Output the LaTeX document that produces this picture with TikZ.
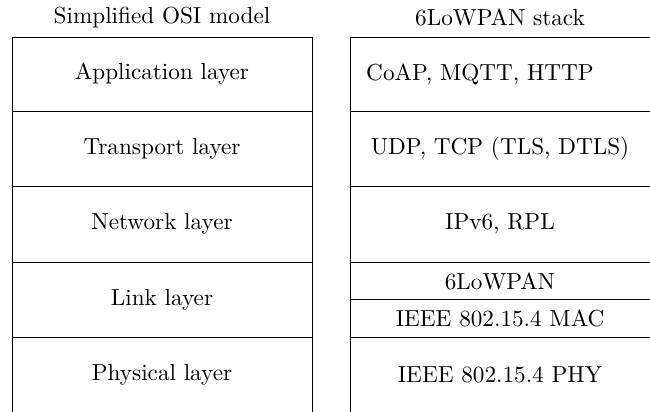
\documentclass[tikz,border=0pt]{standalone}
\begin{document}
\begin{tikzpicture}[x=0.431pt,y=-0.431pt,
  frame/.style={line width=0.4pt},
  title/.style={inner sep=0pt, anchor=center},
  layername/.style={inner sep=0pt, anchor=center}]
\useasboundingbox (0,0) rectangle (650,411);
\clip (0,0) rectangle (650,411);

% column headings
\node[title] (osi)  at (162,17.5) {Simplified OSI model};
\node[title] (lowp) at (500,17.5) {6LoWPAN stack};

% left stack: outline open at the bottom, plus row separators
\draw[frame] (12,420) -- (12,37) -- (312,37) -- (312,420);
\foreach \y in {111.5,186.5,262,337}
  \draw[frame] (12,\y) -- (312,\y);

% right stack
\draw[frame] (350,420) -- (350,37) -- (660,37);
\foreach \y in {111.5,186.5,262,299.5,337}
  \draw[frame] (350,\y) -- (660,\y);

% OSI layers
\node[layername] (app)  at (162,74)    {Application layer};
\node[layername] (tra)  at (162,148.5) {Transport layer};
\node[layername] (net)  at (162,224)   {Network layer};
\node[layername] (lnk)  at (162,299.5) {Link layer};
\node[layername] (phy)  at (162,374.5) {Physical layer};

% 6LoWPAN protocols
\node[layername] (coap) at (480,74)    {CoAP, MQTT, HTTP};
\node[layername] (udp)  at (500,148.5) {UDP, TCP (TLS, DTLS)};
\node[layername] (ipv6) at (500,224)   {IPv6, RPL};
\node[layername] (slp)  at (500,281)   {6LoWPAN};
\node[layername] (mac)  at (500,318.5) {IEEE 802.15.4 MAC};
\node[layername] (rphy) at (500,374.5) {IEEE 802.15.4 PHY};
\end{tikzpicture}
\end{document}
